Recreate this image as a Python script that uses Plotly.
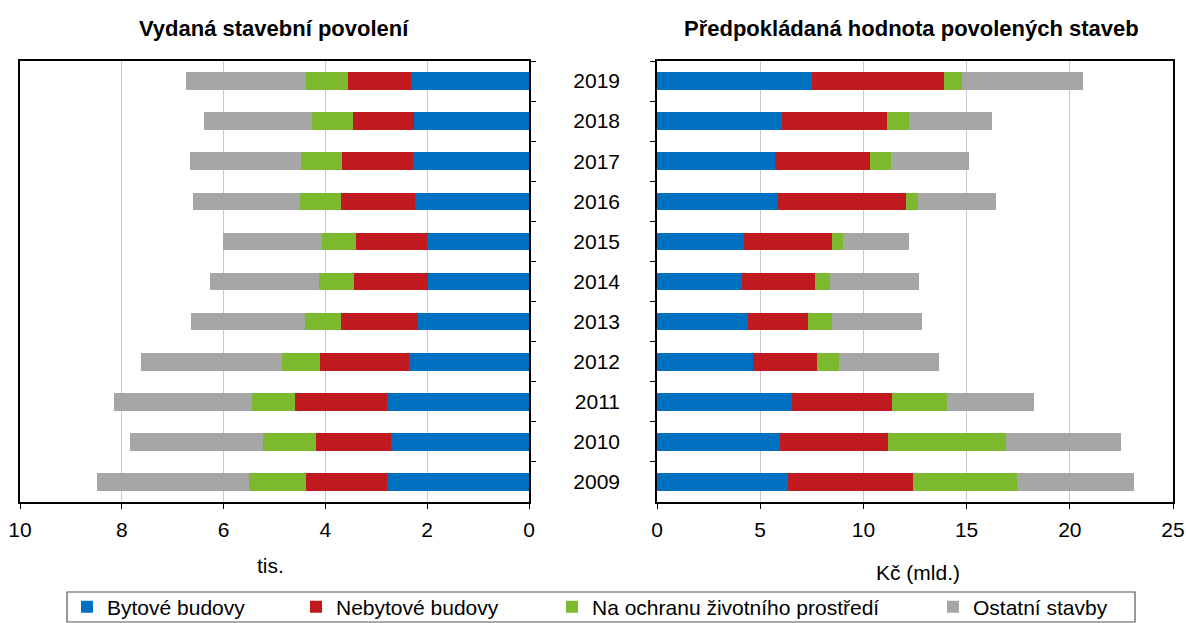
import plotly.graph_objects as go

W, H = 1186, 623

years = ["2009", "2010", "2011", "2012", "2013", "2014", "2015", "2016", "2017", "2018", "2019"]
series_names = ["Bytové budovy", "Nebytové budovy", "Na ochranu životního prostředí", "Ostatní stavby"]
colors = ["#0070C0", "#C0191F", "#7DB92E", "#A6A6A6"]

# Vydaná stavební povolení (tis.)
permits_byt = [2.79, 2.71, 2.79, 2.35, 2.19, 1.99, 2.01, 2.23, 2.27, 2.25, 2.31]
permits_nebyt = [1.60, 1.48, 1.80, 1.76, 1.50, 1.45, 1.38, 1.47, 1.40, 1.21, 1.25]
permits_env = [1.12, 1.04, 0.86, 0.75, 0.72, 0.68, 0.68, 0.79, 0.80, 0.80, 0.83]
permits_other = [2.97, 2.61, 2.70, 2.77, 2.23, 2.15, 1.94, 2.11, 2.19, 2.13, 2.34]

# Předpokládaná hodnota povolených staveb (Kč mld.)
value_byt = [6.34, 5.96, 6.56, 4.66, 4.42, 4.14, 4.20, 5.88, 5.74, 6.04, 7.50]
value_nebyt = [6.08, 5.24, 4.84, 3.10, 2.90, 3.52, 4.26, 6.20, 4.58, 5.12, 6.42]
value_env = [5.00, 5.72, 2.66, 1.08, 1.16, 0.74, 0.56, 0.58, 1.00, 1.04, 0.84]
value_other = [5.70, 5.58, 4.22, 4.84, 4.34, 4.28, 3.20, 3.74, 3.80, 4.02, 5.86]

left_tickvals = [10, 8, 6, 4, 2, 0]
right_tickvals = [0, 5, 10, 15, 20, 25]

FONT = "Liberation Sans, Arial, sans-serif"
FS = 21

permits = [permits_byt, permits_nebyt, permits_env, permits_other]
values = [value_byt, value_nebyt, value_env, value_other]
legend_ids = ["legend", "legend2", "legend3", "legend4"]

fig = go.Figure()
for i in range(4):
    fig.add_trace(go.Bar(
        y=years, x=permits[i], orientation="h", name=series_names[i],
        marker=dict(color=colors[i], line=dict(width=0)),
        xaxis="x", yaxis="y", legend=legend_ids[i], showlegend=True,
    ))
for i in range(4):
    fig.add_trace(go.Bar(
        y=years, x=values[i], orientation="h", name=series_names[i],
        marker=dict(color=colors[i], line=dict(width=0)),
        xaxis="x2", yaxis="y2", showlegend=False,
    ))

def px_x(p):
    return p / W

def px_y(p):
    return 1 - p / H

ydom = [px_y(502), px_y(61)]

axis_common = dict(
    showline=True, linecolor="black", linewidth=1.6, mirror=True,
    tickfont=dict(family=FONT, size=FS, color="black"),
    ticks="outside", ticklen=5, tickcolor="black", tickwidth=1.3,
    zeroline=False, automargin=False,
)

fig.update_layout(
    width=W, height=H,
    margin=dict(l=0, r=0, t=0, b=0, autoexpand=False),
    paper_bgcolor="white", plot_bgcolor="white",
    barmode="stack", bargap=0.56,
    font=dict(family=FONT, size=FS, color="black"),
    xaxis=dict(domain=[px_x(20), px_x(529)], range=[10, 0], tickvals=left_tickvals,
               showgrid=True, gridcolor="#C8C8C8", gridwidth=1, anchor="y",
               ticklabelstandoff=3, **axis_common),
    yaxis=dict(domain=ydom, side="right", anchor="x", showticklabels=False,
               tickson="boundaries", showgrid=False, type="category", **axis_common),
    xaxis2=dict(domain=[px_x(657), px_x(1173)], range=[0, 25], tickvals=right_tickvals,
                showgrid=True, gridcolor="#C8C8C8", gridwidth=1, anchor="y2",
                ticklabelstandoff=3, **axis_common),
    yaxis2=dict(domain=ydom, side="left", anchor="x2", showticklabels=True,
                tickson="boundaries", showgrid=False, type="category",
                ticklabelstandoff=31, **axis_common),
)

legend_marker_centers = [87, 316, 572, 953]
legend_style = dict(orientation="h", xanchor="left", yanchor="middle",
                    y=px_y(607), bgcolor="rgba(0,0,0,0)", borderwidth=0,
                    font=dict(family=FONT, size=FS, color="black"))
for lid, cx in zip(legend_ids, legend_marker_centers):
    fig.update_layout({lid: dict(x=px_x(cx - 20), **legend_style)})

fig.add_shape(type="rect", xref="paper", yref="paper",
              x0=px_x(67), x1=px_x(1135), y0=px_y(622), y1=px_y(592),
              line=dict(color="#555555", width=1.2))

ann_font_b = dict(family=FONT, size=22, color="black")
fig.add_annotation(text="<b>Vydaná stavební povolení</b>", xref="paper", yref="paper",
                   x=px_x(274), y=px_y(28), xanchor="center", yanchor="middle",
                   showarrow=False, font=ann_font_b)
fig.add_annotation(text="<b>Předpokládaná hodnota povolených staveb</b>", xref="paper", yref="paper",
                   x=px_x(912), y=px_y(28), xanchor="center", yanchor="middle",
                   showarrow=False, font=ann_font_b)
fig.add_annotation(text="tis.", xref="paper", yref="paper",
                   x=px_x(270), y=px_y(565), xanchor="center", yanchor="middle",
                   showarrow=False, font=dict(family=FONT, size=FS, color="black"))
fig.add_annotation(text="Kč (mld.)", xref="paper", yref="paper",
                   x=px_x(918), y=px_y(572), xanchor="center", yanchor="middle",
                   showarrow=False, font=dict(family=FONT, size=FS, color="black"))

fig.write_html(
    "out.html",
    config={"displayModeBar": False},
    post_script="document.body.style.margin='0';document.body.style.overflow='hidden';",
)
